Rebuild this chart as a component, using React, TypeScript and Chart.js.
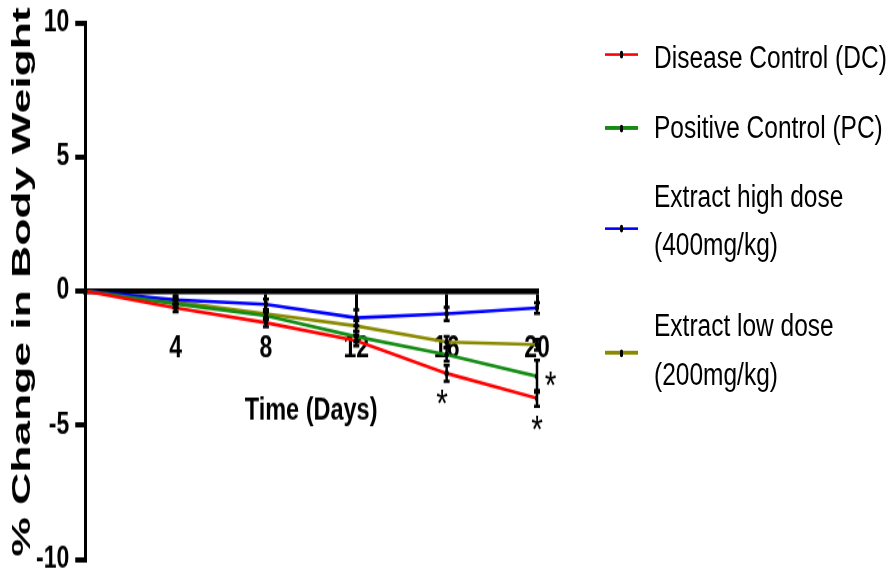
import React, { useEffect, useRef } from 'react';
import { Chart, registerables } from 'chart.js';

Chart.register(...registerables);

// ---- data ----
const days = [0, 4, 8, 12, 16, 20];
const seriesLabels = ['Disease Control (DC)', 'Positive Control (PC)', 'Extract high dose (400mg/kg)', 'Extract low dose (200mg/kg)'];
const legendLines = [['Disease Control (DC)'], ['Positive Control (PC)'], ['Extract high dose', '(400mg/kg)'], ['Extract low dose', '(200mg/kg)']];
const seriesColors = ['#ff0000', '#148c14', '#0000ff', '#8a8a00'];
const diseaseControl = [0, -0.63, -1.18, -1.85, -3.07, -4.0];
const positiveControl = [0, -0.48, -0.92, -1.7, -2.37, -3.18];
const highDose = [0, -0.33, -0.5, -1.0, -0.85, -0.63];
const lowDose = [0, -0.4, -0.85, -1.3, -1.9, -2.0];
const diseaseControlErr = [0, 0.15, 0.15, 0.2, 0.3, 0.3];
const positiveControlErr = [0, 0.15, 0.15, 0.2, 0.25, 0.6];
const highDoseErr = [0, 0.15, 0.2, 0.3, 0.25, 0.2];
const lowDoseErr = [0, 0.1, 0.15, 0.2, 0.2, 0.2];
const xTickStep = 4;
const yMin = -10;
const yMax = 10;
const yTickStep = 5;
const xTitle = 'Time (Days)';
const yTitle = '% Change in Body Weight';
// significance markers (data coordinates)
const starDays = [15.8, 20.6, 20];
const starValues = [-3.8, -3.15, -4.8];

const seriesValues = [diseaseControl, positiveControl, highDose, lowDose];
const seriesErrors = [diseaseControlErr, positiveControlErr, highDoseErr, lowDoseErr];

const SANS = "'Liberation Sans', Arial, sans-serif";
// the figure is stretched vertically; draw in a shorter box and stretch it
const STRETCH = 582 / 448;

const errorBarPlugin = {
  id: 'errorBars',
  afterDatasetsDraw(chart: any) {
    const ctx = chart.ctx;
    const yScale = chart.scales.y;
    const xScale = chart.scales.x;
    ctx.save();
    ctx.strokeStyle = '#000';
    ctx.lineWidth = 2.5;
    chart.data.datasets.forEach((ds: any, di: number) => {
      const errs = seriesErrors[di];
      ds.data.forEach((pt: any, i: number) => {
        const e = errs[i];
        if (!e) return;
        const x = xScale.getPixelForValue(pt.x);
        const yTop = yScale.getPixelForValue(pt.y + e);
        const yBot = yScale.getPixelForValue(pt.y - e);
        ctx.beginPath();
        ctx.moveTo(x, yTop);
        ctx.lineTo(x, yBot);
        ctx.moveTo(x - 3, yTop);
        ctx.lineTo(x + 3, yTop);
        ctx.moveTo(x - 3, yBot);
        ctx.lineTo(x + 3, yBot);
        ctx.stroke();
      });
    });
    ctx.restore();
  },
};

const starPlugin = {
  id: 'stars',
  afterDatasetsDraw(chart: any) {
    const ctx = chart.ctx;
    const size = 30;
    ctx.save();
    ctx.fillStyle = '#000';
    ctx.font = `${size}px ${SANS}`;
    ctx.textAlign = 'center';
    ctx.textBaseline = 'alphabetic';
    starDays.forEach((d, i) => {
      const x = chart.scales.x.getPixelForValue(d);
      const y = chart.scales.y.getPixelForValue(starValues[i]);
      ctx.fillText('*', x, y + size * 0.57);
    });
    ctx.restore();
  },
};

function App() {
  const canvasRef = useRef<HTMLCanvasElement | null>(null);

  useEffect(() => {
    if (!canvasRef.current) return;
    const chart = new Chart(canvasRef.current, {
      type: 'line',
      data: {
        datasets: seriesValues.map((vals, i) => ({
          label: seriesLabels[i],
          data: days.map((d, j) => ({ x: d, y: vals[j] })),
          borderColor: seriesColors[i],
          backgroundColor: seriesColors[i],
          borderWidth: 2.6,
          pointRadius: 2.3,
          pointBackgroundColor: '#000',
          pointBorderWidth: 0,
          tension: 0,
          fill: false,
        })),
      },
      options: {
        animation: false,
        responsive: true,
        maintainAspectRatio: false,
        events: [],
        layout: { padding: { left: 30, right: 357, top: 15.5, bottom: 8.5 } },
        plugins: {
          legend: { display: false },
          tooltip: { enabled: false },
        },
        scales: {
          x: {
            type: 'linear',
            position: { y: 0 } as any,
            min: 0,
            max: 20,
            border: { display: true, color: '#000', width: 4.5 },
            grid: { drawOnChartArea: false, drawTicks: true, tickLength: 12, color: '#000', lineWidth: 3 },
            ticks: {
              stepSize: xTickStep,
              padding: 19,
              color: '#000',
              font: { family: SANS, size: 23, weight: 'bold' },
              callback: (v: any) => (v === 0 ? '' : String(v)),
            },
            title: {
              display: true,
              text: xTitle,
              color: '#000',
              padding: { top: 1, bottom: 0 },
              font: { family: SANS, size: 23.5, weight: 'bold' },
            },
          },
          y: {
            type: 'linear',
            position: 'left',
            min: yMin,
            max: yMax,
            border: { display: true, color: '#000', width: 3 },
            grid: { drawOnChartArea: false, drawTicks: true, tickLength: 10, color: '#000', lineWidth: 4 },
            ticks: {
              stepSize: yTickStep,
              padding: 6,
              color: '#000',
              font: { family: SANS, size: 23, weight: 'bold', lineHeight: 1 },
            },
            title: { display: false },
          },
        },
      },
      plugins: [errorBarPlugin, starPlugin],
    });
    return () => chart.destroy();
  }, []);

  const legendRows = [
    { sampleY: 42.3, textTop: 43.1 - 18.5 },
    { sampleY: 98.5, textTop: 97.7 - 18.5 },
    { sampleY: 176.2, textTop: 150.8 - 18.5 },
    { sampleY: 271.5, textTop: 250.8 - 18.5 },
  ];

  return (
    <div style={{ position: 'fixed', left: 0, top: 0, width: 894, height: 582, background: '#fff', overflow: 'hidden' }}>
      <div
        style={{
          position: 'absolute',
          left: 0,
          top: 0,
          width: 894,
          height: 448,
          transform: `scaleY(${STRETCH})`,
          transformOrigin: '0 0',
        }}
      >
        <canvas ref={canvasRef} />
        <div
          style={{
            position: 'absolute',
            left: 21,
            top: 217,
            transform: 'translate(-50%, -50%) rotate(-90deg) scaleX(1.29)',
            whiteSpace: 'nowrap',
            fontFamily: SANS,
            fontWeight: 'bold',
            fontSize: 26.5,
            lineHeight: '30px',
            color: '#000',
          }}
        >
          {yTitle}
        </div>
        {legendRows.map((r, i) => (
          <React.Fragment key={i}>
            <div style={{ position: 'absolute', left: 605, top: r.sampleY - 1.2, width: 33, height: 2.4, background: seriesColors[i] }} />
            <div style={{ position: 'absolute', left: 619.5, top: r.sampleY - 3, width: 3, height: 6, background: '#000', borderRadius: 1.5 }} />
            <div
              style={{
                position: 'absolute',
                left: 654,
                top: r.textTop,
                fontFamily: SANS,
                fontSize: 24.5,
                lineHeight: '37px',
                color: '#000',
                whiteSpace: 'nowrap',
              }}
            >
              {legendLines[i].map((t, k) => (
                <div key={k}>{t}</div>
              ))}
            </div>
          </React.Fragment>
        ))}
      </div>
    </div>
  );
}

export default App;
